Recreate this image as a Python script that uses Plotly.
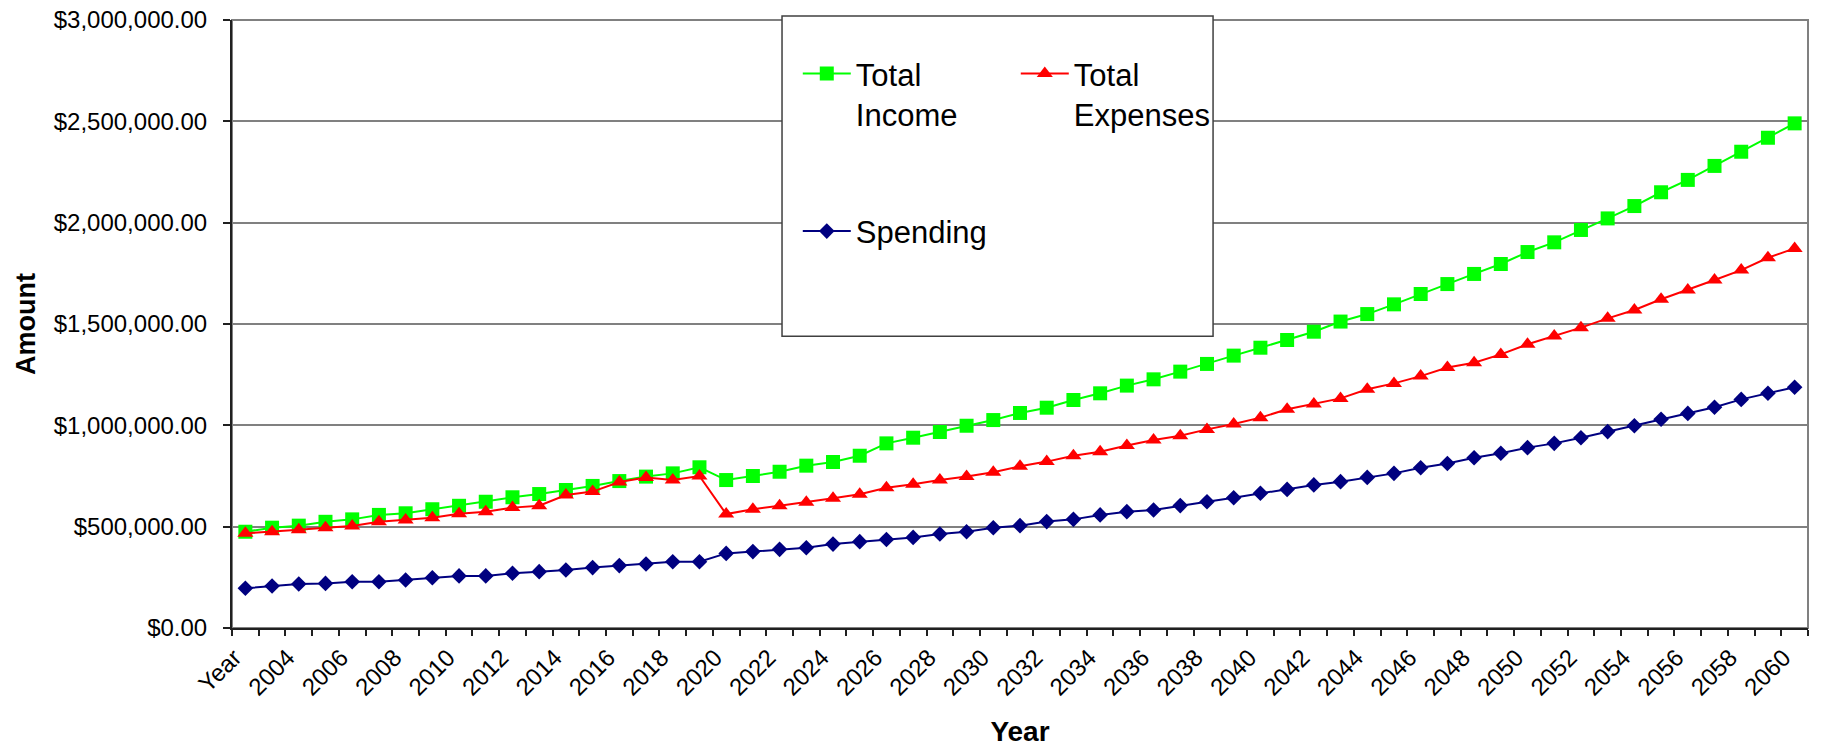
import plotly.graph_objects as go

# Category labels along the x axis (first slot carries the header label)
years = ["Year"] + [str(y) for y in range(2003, 2061)]

total_income = [
    475000, 495000, 505000, 524000, 536000, 558000, 566000, 586000, 603000, 623000,
    645000, 661000, 681000, 701000, 725000, 747000, 763000, 793000, 730000, 750000,
    771000, 801000, 819000, 850000, 911000, 939000, 967000, 998000, 1026000, 1061000,
    1087000, 1125000, 1158000, 1196000, 1227000, 1265000, 1303000, 1344000, 1383000, 1421000,
    1462000, 1512000, 1549000, 1597000, 1648000, 1697000, 1747000, 1796000, 1855000, 1903000,
    1964000, 2021000, 2082000, 2150000, 2211000, 2280000, 2350000, 2419000, 2490000,
]

total_expenses = [
    467000, 475000, 485000, 495000, 503000, 524000, 533000, 544000, 564000, 574000,
    594000, 603000, 656000, 673000, 720000, 742000, 730000, 750000, 562000, 586000,
    603000, 620000, 640000, 660000, 692000, 709000, 730000, 747000, 768000, 798000,
    821000, 850000, 870000, 900000, 928000, 949000, 980000, 1007000, 1038000, 1079000,
    1105000, 1133000, 1178000, 1207000, 1243000, 1285000, 1309000, 1350000, 1400000, 1441000,
    1482000, 1528000, 1569000, 1622000, 1668000, 1717000, 1766000, 1827000, 1873000,
]

spending = [
    196000, 207000, 217000, 220000, 228000, 228000, 237000, 248000, 257000, 257000,
    270000, 278000, 286000, 298000, 308000, 316000, 327000, 327000, 368000, 377000,
    388000, 396000, 414000, 426000, 437000, 447000, 464000, 475000, 495000, 505000,
    525000, 536000, 558000, 574000, 582000, 604000, 623000, 643000, 665000, 684000,
    706000, 722000, 743000, 763000, 791000, 812000, 840000, 862000, 890000, 911000,
    939000, 969000, 998000, 1030000, 1059000, 1089000, 1128000, 1158000, 1188000,
]

y_ticks = [0, 500000, 1000000, 1500000, 2000000, 2500000, 3000000]
x_ticktext = [lab if i % 2 == 0 else "" for i, lab in enumerate(years)]

FONT = "Liberation Sans, Arial, sans-serif"

fig = go.Figure()

fig.add_trace(go.Scatter(
    x=years, y=total_income, name="Total<br>Income", mode="lines+markers",
    line=dict(color="#00FF00", width=2),
    marker=dict(symbol="square", size=14, color="#00FF00"),
    legend="legend",
))
fig.add_trace(go.Scatter(
    x=years, y=total_expenses, name="Total<br>Expenses", mode="lines+markers",
    line=dict(color="#FF0000", width=2),
    marker=dict(symbol="triangle-up", size=14, color="#FF0000"),
    legend="legend",
))
fig.add_trace(go.Scatter(
    x=years, y=spending, name="Spending", mode="lines+markers",
    line=dict(color="#000080", width=2),
    marker=dict(symbol="diamond", size=12, color="#000080"),
    legend="legend2",
))

# Plot-area frame (grey) and the legend box
fig.add_shape(type="rect", xref="paper", yref="paper", x0=0, x1=1, y0=0, y1=1,
              line=dict(color="#808080", width=2), layer="below")
fig.add_shape(type="rect", xref="paper", yref="paper", x0=0.349, x1=0.6225, y0=0.480, y1=1.0066,
              line=dict(color="#404040", width=1.5), fillcolor="white", layer="above")

legend_common = dict(
    bgcolor="rgba(0,0,0,0)", borderwidth=0,
    font=dict(family=FONT, size=31, color="black"),
    xanchor="left", yanchor="top", valign="top", itemwidth=48,
)

fig.update_layout(
    width=1829, height=751,
    margin=dict(l=232, r=21, t=20, b=123),
    paper_bgcolor="white", plot_bgcolor="white",
    font=dict(family=FONT, color="black"),
    legend=dict(orientation="h", x=0.359, y=0.956, entrywidth=155, entrywidthmode="pixels",
                **legend_common),
    legend2=dict(orientation="v", x=0.359, y=0.6966, **legend_common),
    xaxis=dict(
        type="category", categoryorder="array", categoryarray=years,
        tickmode="array", tickvals=years, ticktext=x_ticktext,
        tickson="boundaries", ticks="outside", ticklen=6, tickcolor="#202020", tickwidth=1.5,
        tickangle=-45, tickfont=dict(family=FONT, size=24, color="black"),
        ticklabelshift=-11, ticklabelstandoff=4,
        showgrid=False, showline=True, linecolor="#202020", linewidth=2,
        title=dict(text="<b>Year</b>", font=dict(family=FONT, size=28, color="black"), standoff=22),
        range=[-0.5, len(years) - 0.5], automargin=False,
    ),
    yaxis=dict(
        range=[0, 3000000], tickmode="array", tickvals=y_ticks, tickformat="$,.2f",
        ticks="outside", ticklen=7, tickcolor="#202020", tickwidth=1.5, ticklabelstandoff=11,
        tickfont=dict(family=FONT, size=24, color="black"),
        showgrid=True, gridcolor="#808080", gridwidth=1.5,
        showline=True, linecolor="#202020", linewidth=2, zeroline=False,
        title=dict(text="<b>Amount</b>", font=dict(family=FONT, size=27, color="black"), standoff=10),
        automargin=False,
    ),
)

fig.write_html("out.html")
